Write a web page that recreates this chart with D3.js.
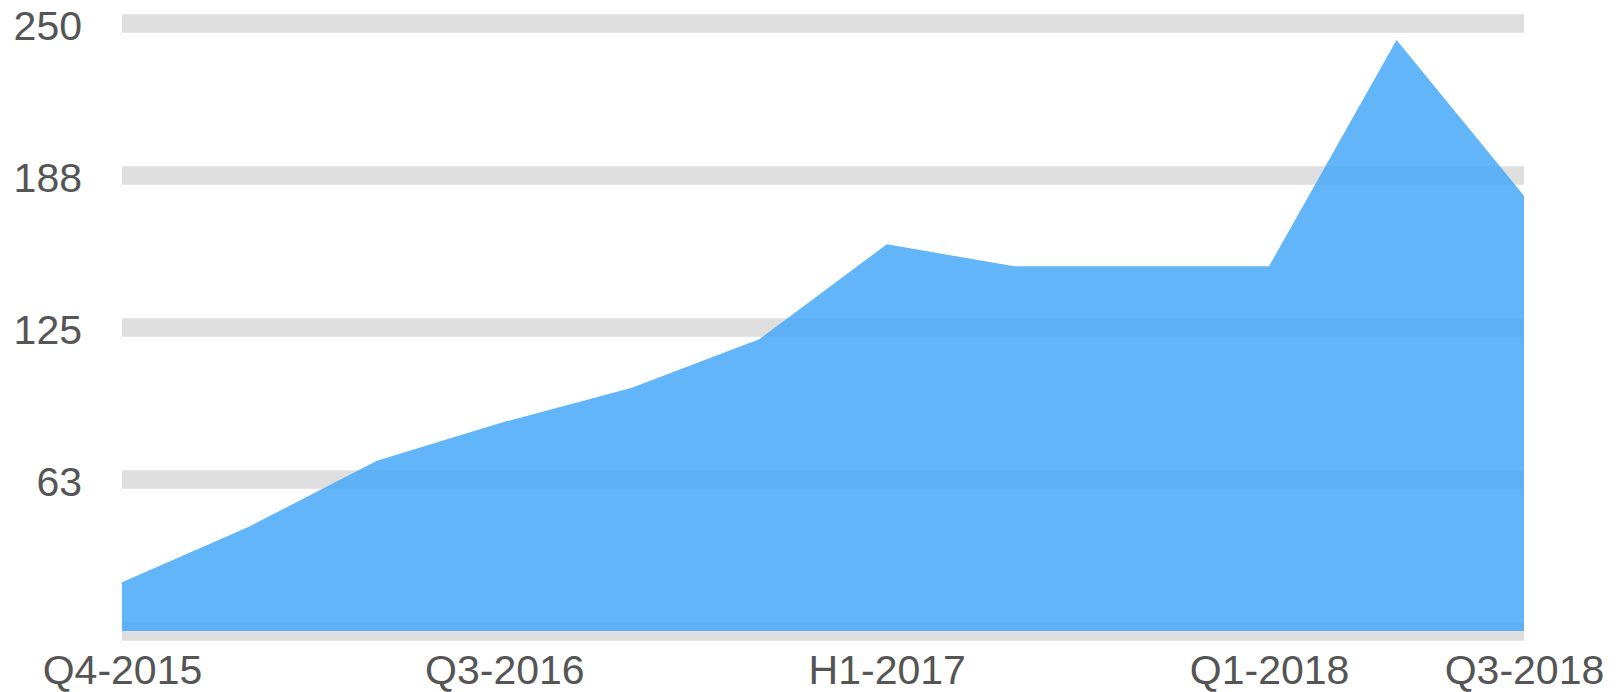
<!DOCTYPE html>
<html>
<head>
<meta charset="utf-8">
<script src="https://cdn.jsdelivr.net/npm/d3@7"></script>
<style>
  html, body { margin: 0; padding: 0; background: #fff; }
  svg { display: block; }
  text { font-family: "Liberation Sans", Arial, Helvetica, sans-serif; fill: #555; }
</style>
</head>
<body>
<svg width="1618" height="692"></svg>
<script>
// periods on the x axis
var categories = ["Q4-2015", "Q1-2016", "Q2-2016", "Q3-2016", "Q4-2016", "Q1-2017",
                  "H1-2017", "Q3-2017", "Q4-2017", "Q1-2018", "Q2-2018", "Q3-2018"];
var values = [20, 43, 70, 86, 100, 120, 159, 150, 150, 150, 243, 179];
var xTickLabels = ["Q4-2015", "Q3-2016", "H1-2017", "Q1-2018", "Q3-2018"];
var yTicks = [0, 62.5, 125, 187.5, 250];

var svg = d3.select("svg"),
    margin = {top: 23, right: 94, bottom: 61, left: 122},
    width = +svg.attr("width") - margin.left - margin.right,
    height = +svg.attr("height") - margin.top - margin.bottom;

var g = svg.append("g")
    .attr("transform", "translate(" + margin.left + "," + margin.top + ")");

var x = d3.scalePoint()
    .domain(categories)
    .range([0, width]);

var y = d3.scaleLinear()
    .domain([0, 250])
    .range([height, 0]);

// y axis: thick grey bands as gridlines
var yAxis = g.append("g")
    .attr("class", "y axis")
    .call(d3.axisLeft(y)
        .tickValues(yTicks)
        .tickSize(-width)
        .tickPadding(40)
        .tickFormat(function(d) { return d === 0 ? "" : Math.round(d); }));

yAxis.select(".domain").remove();
yAxis.selectAll(".tick line")
    .attr("stroke", "#dedede")
    .attr("stroke-width", 18.5);
yAxis.selectAll(".tick text")
    .attr("dy", "0.4em")
    .style("font-size", "41px")
    .attr("fill", "#555");

var area = d3.area()
    .x(function(d, i) { return x(categories[i]); })
    .y0(y(0))
    .y1(function(d) { return y(d); });

g.append("path")
    .datum(values)
    .attr("fill", "rgb(71,168,247)")
    .attr("fill-opacity", 0.85)
    .attr("d", area);

var xAxis = g.append("g")
    .attr("class", "x axis")
    .attr("transform", "translate(0," + height + ")")
    .call(d3.axisBottom(x)
        .tickValues(xTickLabels)
        .tickSize(0)
        .tickPadding(53));

xAxis.select(".domain").remove();
xAxis.selectAll(".tick text")
    .attr("dy", 0)
    .style("font-size", "41px")
    .attr("fill", "#555");
</script>
</body>
</html>
